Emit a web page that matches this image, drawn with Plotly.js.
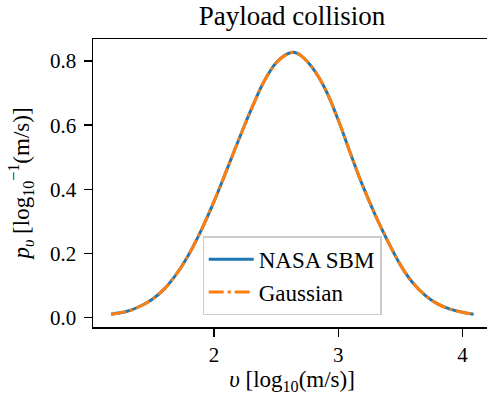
<!DOCTYPE html>
<html>
<head>
<meta charset="utf-8">
<script src="https://cdn.plot.ly/plotly-3.0.1.min.js"></script>
<style>
  html, body { margin: 0; padding: 0; overflow: hidden; background: #fff; }
  #chart { width: 493px; height: 398px; }
</style>
</head>
<body>
<div id="chart"></div>
<script>
// Collision delta-v distribution, in log10(m/s)
const logV = [1.17, 1.30, 1.40, 1.50, 1.60, 1.70, 1.80, 1.90, 2.00, 2.10, 2.20, 2.30, 2.40, 2.50,
              2.60, 2.65, 2.70, 2.80, 2.90, 3.00, 3.10, 3.20, 3.30, 3.40, 3.50, 3.60, 3.70, 3.80,
              3.90, 4.00, 4.09];
const sbmDensity = [0.010, 0.019, 0.034, 0.056, 0.089, 0.137, 0.199, 0.275, 0.362, 0.458, 0.556, 0.650, 0.735, 0.795,
                    0.824, 0.827, 0.817, 0.775, 0.709, 0.616, 0.510, 0.408, 0.318, 0.237, 0.164, 0.108, 0.069, 0.042,
                    0.026, 0.016, 0.010];
const gaussDensity = [0.010, 0.019, 0.034, 0.056, 0.089, 0.137, 0.199, 0.275, 0.362, 0.458, 0.556, 0.650, 0.735, 0.795,
                      0.824, 0.827, 0.817, 0.775, 0.709, 0.616, 0.510, 0.408, 0.318, 0.237, 0.164, 0.108, 0.069, 0.042,
                      0.026, 0.016, 0.010];
const xTicks = [2, 3, 4];
const yTicks = [0.0, 0.2, 0.4, 0.6, 0.8];
const yTickText = ['0.0', '0.2', '0.4', '0.6', '0.8'];

const serif = '"Liberation Serif"';

const traces = [
  {
    x: logV, y: sbmDensity, type: 'scatter', mode: 'lines', name: 'NASA SBM',
    line: { color: '#1f77b4', width: 3, shape: 'spline', smoothing: 1 }
  },
  {
    x: logV, y: gaussDensity, type: 'scatter', mode: 'lines', name: 'Gaussian',
    line: { color: '#ff7f0e', width: 3, shape: 'spline', smoothing: 1, dash: '15px,4px,3px,4px' }
  }
];

const axisCommon = {
  showline: true, linecolor: '#000', linewidth: 1.5, mirror: true,
  ticks: 'outside', ticklen: 8, tickwidth: 1.5, tickcolor: '#000',
  showgrid: false, zeroline: false,
  tickfont: { family: serif, size: 21, color: '#000' }
};

const layout = {
  width: 493, height: 398,
  margin: { l: 93, r: 2, t: 39, b: 71 },
  paper_bgcolor: '#fff', plot_bgcolor: '#fff',
  font: { family: serif, color: '#000' },
  title: {
    text: 'Payload collision',
    font: { family: serif, size: 27, color: '#000' },
    x: 0.5, xanchor: 'center', xref: 'paper', y: 0.96, yanchor: 'middle'
  },
  xaxis: Object.assign({}, axisCommon, {
    range: [1.025, 4.23],
    tickvals: xTicks, ticktext: xTicks.map(String),
    title: { text: '<i>υ</i> [log<sub>10</sub>(m/s)]', font: { family: serif, size: 23, color: '#000' }, standoff: 4 }
  }),
  yaxis: Object.assign({}, axisCommon, {
    range: [-0.030, 0.869],
    tickvals: yTicks, ticktext: yTickText,
    ticklabelstandoff: 3,
    title: { text: '<i>p<sub>υ</sub></i> [log<sub>10</sub><sup>−1</sup>(m/s)]', font: { family: serif, size: 23, color: '#000' }, standoff: 14 }
  }),
  legend: {
    x: 0.5, xanchor: 'center', y: 0.04, yanchor: 'bottom',
    bgcolor: 'rgba(255,255,255,0.8)', bordercolor: '#cccccc', borderwidth: 1.2,
    font: { family: serif, size: 23, color: '#000' },
    itemwidth: 45
  },
  showlegend: true
};

Plotly.newPlot('chart', traces, layout, { staticPlot: true, displayModeBar: false });
</script>
</body>
</html>
